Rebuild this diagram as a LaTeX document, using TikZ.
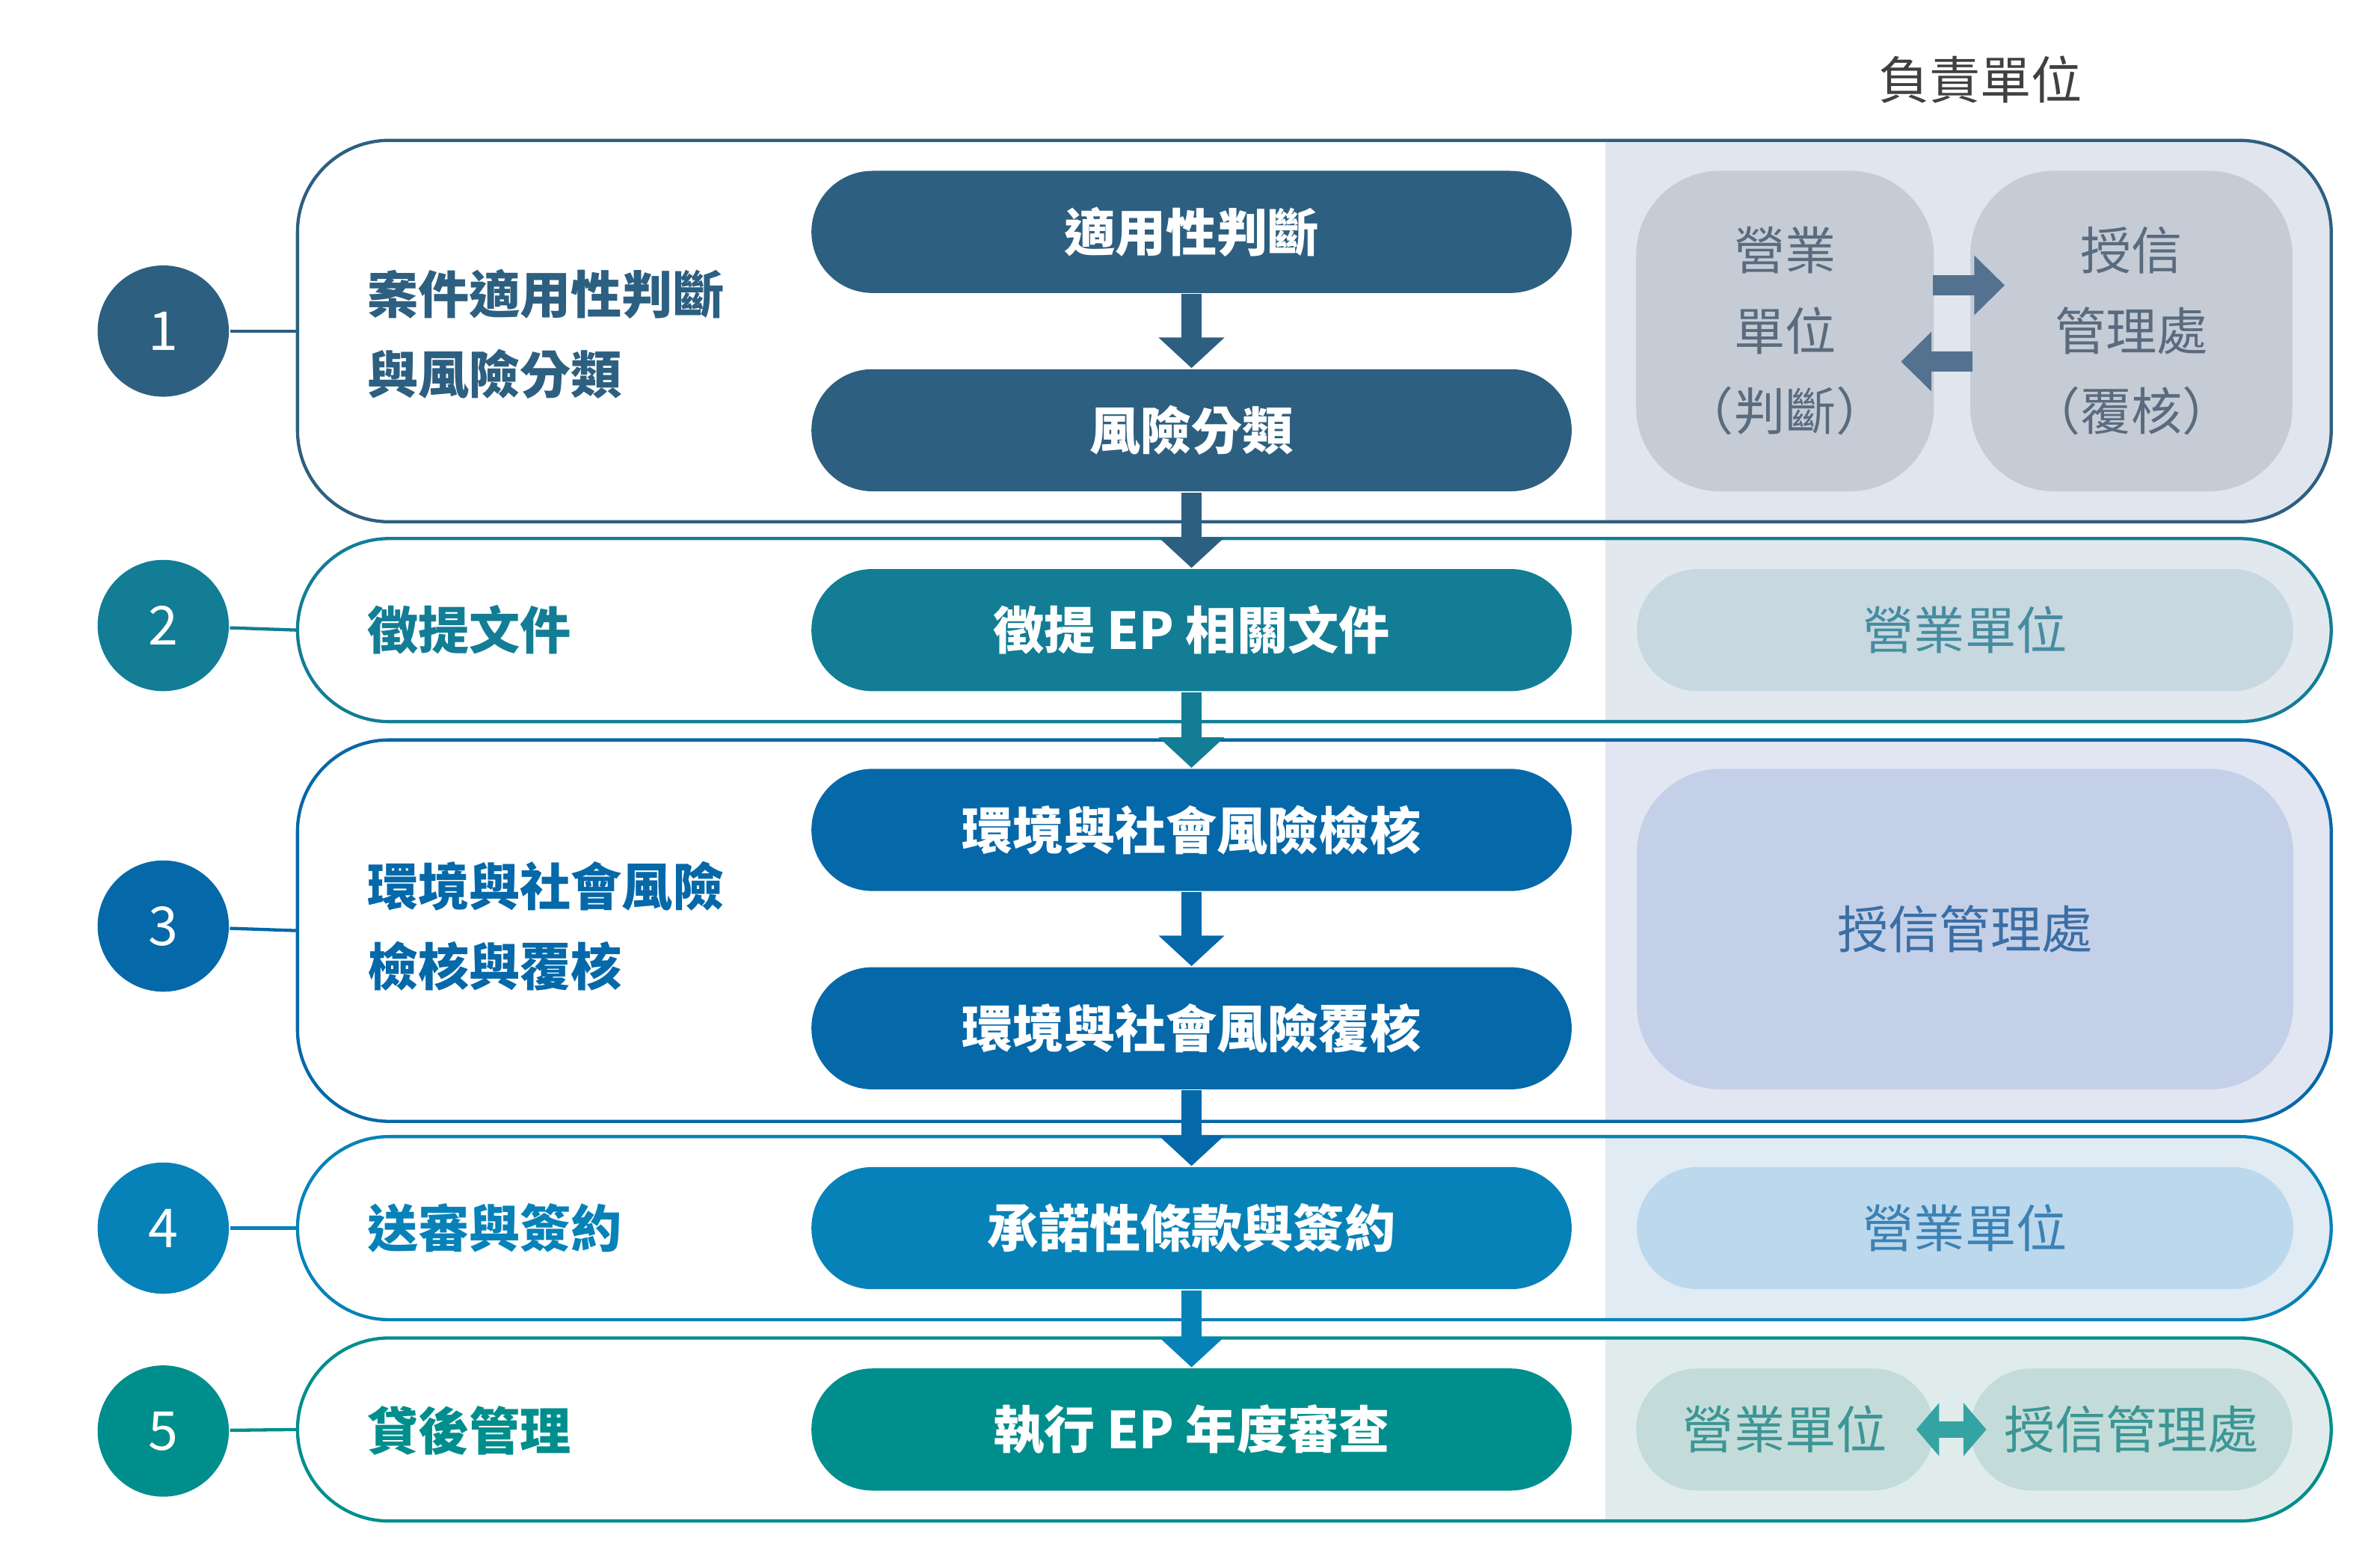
\documentclass[tikz,border=0pt]{standalone}
\usepackage{fontspec}
\setmainfont{Noto Sans CJK TC}
\usetikzlibrary{arrows.meta}
\definecolor{cA}{HTML}{2D5F80}\definecolor{cB}{HTML}{127D95}\definecolor{cC}{HTML}{0568A9}
\definecolor{cD}{HTML}{0782B8}\definecolor{cE}{HTML}{008E8C}
\definecolor{g1f}{RGB}{197,204,214}\definecolor{g1t}{RGB}{90,107,127}\definecolor{g1a}{RGB}{84,114,144}
\definecolor{g2f}{RGB}{199,216,224}\definecolor{g2t}{RGB}{70,140,160}
\definecolor{g3f}{RGB}{196,208,232}\definecolor{g3t}{RGB}{58,110,165}
\definecolor{g4f}{RGB}{188,216,236}\definecolor{g4t}{RGB}{60,130,180}
\definecolor{g5f}{RGB}{196,220,217}\definecolor{g5t}{RGB}{60,150,150}
\tikzset{
 pill/.style={rounded corners=0.4cm,minimum width=4.98cm,minimum height=0.8cm,text=white,font=\fontsize{9.5}{11}\selectfont\bfseries,inner sep=0},
 rpill/.style={rounded corners=0.4cm,minimum height=0.8cm,font=\fontsize{9.5}{11}\selectfont,inner sep=0},
 circ/.style={circle,minimum size=0.86cm,text=white,font=\fontsize{10}{12}\selectfont,inner sep=0},
 lab/.style={anchor=west,align=left,inner sep=0,font=\fontsize{9.5}{15}\selectfont\bfseries},
 darr/.style={line width=0.13cm,-{Triangle[length=0.2cm,width=0.42cm]}},
}
\begin{document}
\begin{tikzpicture}[x=0.01cm,y=-0.01cm]
\useasboundingbox (0,0) rectangle (1560,1014);
\node[font=\fontsize{9.5}{11}\selectfont,text=black!75] (hdr) at (1298,52) {負責單位};
\foreach \t/\b/\c/\f/\n in {92/342/cA/E1E5EE/r1,353/473/cB/E2E9EE/r2,485/735/cC/E2E6F2/r3,745/865/cD/E0EBF4/r4,877/997/cE/E0ECEC/r5}{
  \definecolor{ff}{HTML}{\f}
  \begin{scope}
  \clip[rounded corners=0.6cm] (195,\t) rectangle (1528,\b);
  \fill[ff] (1052,\t) rectangle (1528,\b);
  \end{scope}
  \draw[\c,line width=0.6pt,rounded corners=0.6cm] (195,\t) rectangle (1528,\b);
  \coordinate (\n w) at (195,{(\t+\b)/2});
}
\node[circ,fill=cA] (c1) at (107,217) {1};
\node[circ,fill=cB] (c2) at (107,410) {2};
\node[circ,fill=cC] (c3) at (107,607) {3};
\node[circ,fill=cD] (c4) at (107,805) {4};
\node[circ,fill=cE] (c5) at (107,938) {5};
\draw[cA,line width=0.6pt] (c1) -- (r1w);
\draw[cB,line width=0.6pt] (c2) -- (r2w);
\draw[cC,line width=0.6pt] (c3) -- (r3w);
\draw[cD,line width=0.6pt] (c4) -- (r4w);
\draw[cE,line width=0.6pt] (c5) -- (r5w);
\node[lab,text=cA] (l1) at (240,219) {案件適用性判斷\\與風險分類};
\node[lab,text=cB] (l2) at (240,413) {徵提文件};
\node[lab,text=cC] (l3) at (240,607) {環境與社會風險\\檢核與覆核};
\node[lab,text=cD] (l4) at (240,805) {送審與簽約};
\node[lab,text=cE] (l5) at (240,938) {貸後管理};
\node[pill,fill=cA] (p1) at (781,152) {適用性判斷};
\node[pill,fill=cA] (p2) at (781,282) {風險分類};
\node[pill,fill=cB] (p3) at (781,413) {徵提 EP 相關文件};
\node[pill,fill=cC] (p4) at (781,544) {環境與社會風險檢核};
\node[pill,fill=cC] (p5) at (781,674) {環境與社會風險覆核};
\node[pill,fill=cD] (p6) at (781,805) {承諾性條款與簽約};
\node[pill,fill=cE] (p7) at (781,937) {執行 EP 年度審查};
\draw[darr,cA] (p1) -- (p2);
\draw[darr,cA] (p2) -- (p3);
\draw[darr,cB] (p3) -- (p4);
\draw[darr,cC] (p4) -- (p5);
\draw[darr,cC] (p5) -- (p6);
\draw[darr,cD] (p6) -- (p7);
\node[rpill,fill=g1f,rounded corners=0.55cm,minimum width=1.95cm,minimum height=2.1cm,align=center,text=g1t,font=\fontsize{9.5}{15}\selectfont] (u1) at (1170,217) {營業\\單位\\（判斷）};
\node[rpill,fill=g1f,rounded corners=0.55cm,minimum width=2.11cm,minimum height=2.1cm,align=center,text=g1t,font=\fontsize{9.5}{15}\selectfont] (u2) at (1397,217) {授信\\管理處\\（覆核）};
\coordinate (a1s) at (1267,187); \coordinate (a1e) at (1314,187);
\coordinate (a2s) at (1293,237); \coordinate (a2e) at (1246,237);
\draw[line width=0.13cm,-{Triangle[length=0.2cm,width=0.38cm]},g1a] (a1s) -- (a1e);
\draw[line width=0.13cm,-{Triangle[length=0.2cm,width=0.38cm]},g1a] (a2s) -- (a2e);
\node[rpill,fill=g2f,minimum width=4.3cm,text=g2t] (u3) at (1288,413) {營業單位};
\node[rpill,fill=g3f,rounded corners=0.55cm,minimum width=4.3cm,minimum height=2.1cm,text=g3t] (u4) at (1288,609) {授信管理處};
\node[rpill,fill=g4f,minimum width=4.3cm,text=g4t] (u5) at (1288,805) {營業單位};
\node[rpill,fill=g5f,minimum width=1.95cm,text=g5t] (u6) at (1170,937) {營業單位};
\node[rpill,fill=g5f,minimum width=2.11cm,text=g5t] (u7) at (1397,937) {授信管理處};
\coordinate (b1) at (1256,937); \coordinate (b2) at (1302,937);
\draw[line width=0.11cm,{Triangle[length=0.15cm,width=0.34cm]}-{Triangle[length=0.15cm,width=0.34cm]},cE!80] (b1) -- (b2);
\end{tikzpicture}
\end{document}
